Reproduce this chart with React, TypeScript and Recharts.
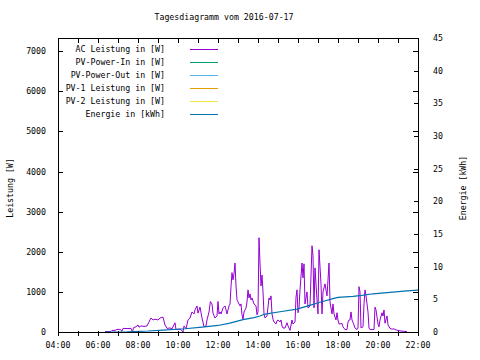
import React from "react";
import { LineChart, Line, XAxis, YAxis, ReferenceArea } from "recharts";

const title = "Tagesdiagramm vom 2016-07-17";
const leftAxisTitle = "Leistung [W]";
const rightAxisTitle = "Energie [kWh]";

const hourTicks = [4, 5, 6, 7, 8, 9, 10, 11, 12, 13, 14, 15, 16, 17, 18, 19, 20, 21, 22];
const wattTicks = [0, 1000, 2000, 3000, 4000, 5000, 6000, 7000];
const kwhTicks = [0, 5, 10, 15, 20, 25, 30, 35, 40, 45];

const seriesNames = [
  "AC Leistung in [W]",
  "PV-Power-In in [W]",
  "PV-Power-Out in [W]",
  "PV-1 Leistung in [W]",
  "PV-2 Leistung in [W]",
  "Energie in [kWh]",
];
const seriesColors = ["#9400d3", "#009e73", "#56b4e9", "#e69f00", "#f0e442", "#0072b2"];

// AC power: time (decimal hours) and watts
const acTimes = [
  6.35, 6.5, 6.65, 6.7, 6.85, 6.95, 7.1, 7.2, 7.25, 7.45, 7.65, 7.72, 7.78, 7.9, 8.0, 8.05, 8.15, 8.3, 8.45, 8.55,
  8.65, 8.75, 8.85, 9.0, 9.1, 9.25, 9.35, 9.45, 9.6, 9.7, 9.85, 9.9, 10.05, 10.15, 10.25, 10.3, 10.4, 10.5, 10.6, 10.7,
  10.8, 10.85, 10.95, 11.0, 11.1, 11.2, 11.3, 11.4, 11.45, 11.55, 11.62, 11.7, 11.75, 11.85, 11.95, 12.0, 12.05, 12.1, 12.15, 12.25,
  12.35, 12.45, 12.55, 12.6, 12.65, 12.7, 12.75, 12.8, 12.85, 12.9, 12.95, 13.0, 13.1, 13.15, 13.2, 13.25, 13.3, 13.4, 13.45, 13.5,
  13.55, 13.6, 13.65, 13.7, 13.8, 13.9, 13.95, 14.0, 14.05, 14.1, 14.15, 14.2, 14.25, 14.3, 14.35, 14.45, 14.55, 14.6, 14.65, 14.7,
  14.75, 14.8, 14.9, 14.95, 15.0, 15.1, 15.15, 15.2, 15.25, 15.35, 15.45, 15.5, 15.6, 15.7, 15.75, 15.85, 15.9, 15.95, 16.0, 16.05,
  16.1, 16.2, 16.25, 16.3, 16.35, 16.45, 16.5, 16.6, 16.7, 16.75, 16.8, 16.85, 16.95, 17.0, 17.05, 17.15, 17.2, 17.25, 17.35, 17.45,
  17.5, 17.55, 17.6, 17.7, 17.75, 17.8, 17.9, 17.95, 18.0, 18.05, 18.1, 18.2, 18.25, 18.35, 18.45, 18.5, 18.55, 18.6, 18.65, 18.7,
  18.75, 18.85, 18.95, 19.0, 19.05, 19.1, 19.15, 19.25, 19.3, 19.35, 19.4, 19.45, 19.5, 19.55, 19.6, 19.8, 19.85, 19.9, 20.0, 20.05,
  20.1, 20.2, 20.25, 20.3, 20.35, 20.45, 20.5, 20.6, 20.7, 20.8, 20.85, 21.0, 21.1, 21.2, 21.35, 21.45,
];
const acWatts = [
  10, 10, 15, 40, 40, 65, 65, 20, 90, 85, 90, 0, 110, 130, 175, 120, 150, 140, 150, 250,
  350, 300, 320, 300, 350, 370, 175, 90, 100, 80, 230, 60, 70, 60, 0, 150, 75, 300, 350, 500,
  450, 550, 650, 470, 620, 350, 130, 150, 300, 500, 760, 700, 470, 350, 400, 760, 450, 500, 450, 600,
  650, 450, 650, 700, 1130, 1480, 1300, 1450, 1720, 1150, 800, 750, 650, 700, 430, 320, 500, 600, 750, 1050,
  850, 950, 800, 850, 700, 650, 430, 500, 2350, 1720, 1150, 1420, 1000, 450, 350, 400, 850, 800, 900, 450,
  320, 250, 200, 280, 300, 250, 300, 150, 100, 100, 230, 150, 40, 300, 200, 250, 870, 1050, 480, 600,
  1050, 1720, 1350, 1700, 700, 1000, 600, 650, 2150, 1900, 600, 1600, 800, 450, 2050, 1200, 450, 1000, 1200, 900,
  1300, 1720, 750, 450, 700, 450, 300, 480, 300, 200, 200, 215, 130, 60, 60, 250, 300, 300, 500, 300,
  240, 100, 60, 100, 1130, 1000, 100, 130, 700, 1050, 900, 700, 500, 100, 60, 60, 620, 550, 200, 130,
  300, 480, 400, 550, 220, 400, 180, 90, 70, 80, 60, 40, 30, 20, 15, 10,
];

// Energy: time (decimal hours) and kWh
const energyTimes = [6.35, 7.45, 8.5, 9.25, 10.35, 11.2, 12.0, 12.6, 13.25, 13.8, 14.1, 14.35, 15.1, 15.95, 16.5, 17.1, 17.75, 18.0, 18.75, 19.2, 19.75, 20.6, 21.45, 22.0];
const energyKwh = [0, 0.02, 0.15, 0.3, 0.5, 0.75, 1.0, 1.35, 1.9, 2.2, 2.45, 2.75, 3.1, 3.5, 4.0, 4.55, 5.1, 5.3, 5.45, 5.6, 5.85, 6.05, 6.3, 6.4];

const acData = acTimes.map((t, i) => ({ t, w: acWatts[i] }));
const energyData = energyTimes.map((t, i) => ({ t, e: energyKwh[i] }));

const FONT = "'DejaVu Sans Mono', monospace";
const FS = 8.25;
const TICK = 4;

const fmtHour = (h: number) => (h % 2 === 0 ? `${String(h).padStart(2, "0")}:00` : "");

const LEFT_GAP = 12;
const RIGHT_GAP = 14;
const BOTTOM_GAP = 9;

const px = (v: number) => Math.round(v) + 0.5;

function LeftTick(props: any) {
  const { x, y, payload } = props;
  const ax = Math.round(x + LEFT_GAP);
  const yy = px(y);
  return (
    <g>
      <line x1={ax} x2={ax + TICK + 0.5} y1={yy} y2={yy} stroke="#000" strokeWidth={1} shapeRendering="crispEdges" />
      <text x={x} y={y} textAnchor="end" dominantBaseline="central" fontSize={FS} fontFamily={FONT} fill="#000">
        {payload.value}
      </text>
    </g>
  );
}

function RightTick(props: any) {
  const { x, y, payload } = props;
  const ax = Math.round(x - RIGHT_GAP);
  const yy = px(y);
  return (
    <g>
      <line x1={ax - TICK - 1} x2={ax} y1={yy} y2={yy} stroke="#000" strokeWidth={1} shapeRendering="crispEdges" />
      <text x={x} y={y} textAnchor="start" dominantBaseline="central" fontSize={FS} fontFamily={FONT} fill="#000">
        {payload.value}
      </text>
    </g>
  );
}

function RightMirrorTick(props: any) {
  const { x, y } = props;
  const ax = Math.round(x);
  const yy = px(y);
  return <line x1={ax - TICK - 1} x2={ax} y1={yy} y2={yy} stroke="#000" strokeWidth={1} shapeRendering="crispEdges" />;
}

function BottomTick(props: any) {
  const { x, y, payload } = props;
  const ay = Math.round(y - BOTTOM_GAP);
  const xx = px(x);
  const label = fmtHour(payload.value);
  return (
    <g>
      <line x1={xx} x2={xx} y1={ay - TICK - 1} y2={ay} stroke="#000" strokeWidth={1} shapeRendering="crispEdges" />
      {label ? (
        <text x={x} y={y} textAnchor="middle" dominantBaseline="central" fontSize={FS} fontFamily={FONT} fill="#000">
          {label}
        </text>
      ) : null}
    </g>
  );
}

function TopTick(props: any) {
  const { x, y } = props;
  const xx = px(x);
  const ay = Math.round(y);
  return <line x1={xx} x2={xx} y1={ay} y2={ay + TICK + 1} stroke="#000" strokeWidth={1} shapeRendering="crispEdges" />;
}

export default function App() {
  return (
    <div style={{ position: "absolute", left: 0, top: 0, width: 480, height: 360, background: "#fff" }}>
      <LineChart width={480} height={360} margin={{ top: 33, right: 0, bottom: 0, left: 0 }}>
        <XAxis
          xAxisId="bottom"
          type="number"
          dataKey="t"
          domain={[4, 22]}
          ticks={hourTicks}
          interval={0}
          allowDataOverflow
          height={28}
          tickSize={0}
          tickLine={false}
          axisLine={false}
          tickMargin={BOTTOM_GAP + 4}
          tick={<BottomTick />}
        />
        <XAxis
          xAxisId="top"
          orientation="top"
          type="number"
          dataKey="t"
          domain={[4, 22]}
          ticks={hourTicks}
          interval={0}
          allowDataOverflow
          height={5}
          tickSize={0}
          tickMargin={0}
          tickLine={false}
          axisLine={false}
          tick={<TopTick />}
        />
        <YAxis
          yAxisId="left"
          domain={[0, 7330]}
          ticks={wattTicks}
          interval={0}
          allowDataOverflow
          width={58}
          tickSize={0}
          tickLine={false}
          axisLine={false}
          tickMargin={LEFT_GAP}
          tick={<LeftTick />}
        />
        <YAxis
          yAxisId="leftMirror"
          orientation="right"
          domain={[0, 7330]}
          ticks={wattTicks}
          interval={0}
          allowDataOverflow
          width={1}
          tickSize={0}
          tickMargin={0}
          tickLine={false}
          axisLine={false}
          tick={<RightMirrorTick />}
        />
        <YAxis
          yAxisId="right"
          orientation="right"
          domain={[0, 45]}
          ticks={kwhTicks}
          interval={0}
          allowDataOverflow
          width={61}
          tickSize={0}
          tickLine={false}
          axisLine={false}
          tickMargin={RIGHT_GAP}
          tick={<RightTick />}
        />
        <ReferenceArea
          xAxisId="bottom"
          yAxisId="left"
          x1={4}
          x2={22}
          y1={0}
          y2={7330}
          fill="none"
          fillOpacity={0}
          stroke="#000"
          strokeWidth={1}
          strokeOpacity={1}
          shapeRendering="crispEdges"
          ifOverflow="visible"
        />
        {/* invisible carrier so the mirrored watt axis gets a domain */}
        <Line
          data={acData}
          xAxisId="bottom"
          yAxisId="leftMirror"
          dataKey="w"
          stroke="none"
          dot={false}
          activeDot={false}
          legendType="none"
          isAnimationActive={false}
        />
        <Line
          data={acData}
          xAxisId="top"
          yAxisId="left"
          dataKey="w"
          type="linear"
          stroke={seriesColors[0]}
          strokeWidth={1}
          dot={false}
          isAnimationActive={false}
        />
        <Line
          data={energyData}
          xAxisId="bottom"
          yAxisId="right"
          dataKey="e"
          type="linear"
          stroke={seriesColors[5]}
          strokeWidth={1.2}
          dot={false}
          isAnimationActive={false}
        />
        <text x={224} y={20} textAnchor="middle" fontSize={FS} fontFamily={FONT} fill="#000">
          {title}
        </text>
        <text
          x={10}
          y={188}
          transform="rotate(-90 10 188)"
          textAnchor="middle"
          dominantBaseline="central"
          fontSize={FS}
          fontFamily={FONT}
          fill="#000"
        >
          {leftAxisTitle}
        </text>
        <text
          x={463}
          y={188}
          transform="rotate(-90 463 188)"
          textAnchor="middle"
          dominantBaseline="central"
          fontSize={FS}
          fontFamily={FONT}
          fill="#000"
        >
          {rightAxisTitle}
        </text>
        <g>
          {seriesNames.map((name, i) => (
            <g key={name}>
              <text
                x={165}
                y={49 + i * 13}
                textAnchor="end"
                dominantBaseline="central"
                fontSize={FS}
                fontFamily={FONT}
                fill="#000"
              >
                {name}
              </text>
              <line
                x1={190}
                x2={218}
                y1={49.5 + i * 13}
                y2={49.5 + i * 13}
                stroke={seriesColors[i]}
                strokeWidth={1}
                shapeRendering="crispEdges"
              />
            </g>
          ))}
        </g>
      </LineChart>
    </div>
  );
}
